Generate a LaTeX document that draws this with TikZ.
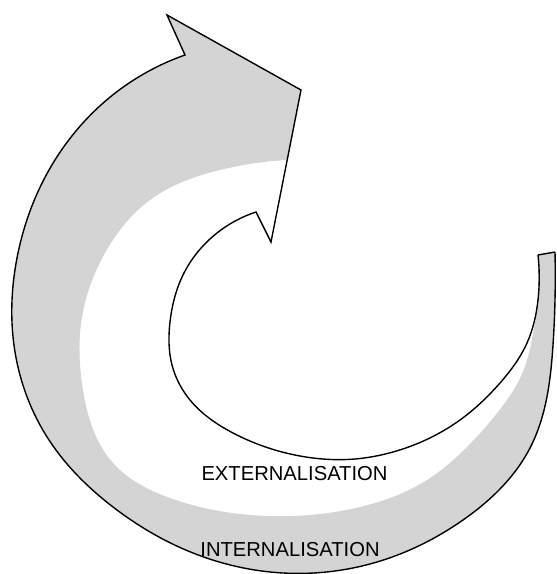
\documentclass[tikz,border=0pt]{standalone}
\usepackage{fontspec}
\setmainfont{Liberation Sans}
\usetikzlibrary{hobby}
\begin{document}
\begin{tikzpicture}[scale=2.54,
  cycband/.style={fill=black!17},
  cyclabel/.style={font=\fontsize{14.6}{17}\selectfont,inner sep=0pt}]%
% spiral arrow, units in inches, origin at lower left
\ifx\cyclw\undefined\newdimen\cyclw\fi
\global\def\cycdraw{\draw[line width=\cyclw]}
\global\def\cycstop{;}
\cyclw=1bp
\useasboundingbox (0,0) rectangle (5.57,5.74)\cycstop
% grey band: outer rim, arrow head, then the soft inner edge back to the tail
\fill[cycband] (5.55,3.22)
 to[curve through={(5.53,2.29) (5.30,1.26) (4.63,0.54) (3.77,0.12)
 (2.83,0.01) (1.93,0.21) (1.13,0.67) (0.49,1.34) (0.15,2.22)
 (0.17,3.16) (0.49,4.04) (1.09,4.76)}] (1.85,5.19)
 --(1.67,5.59)
 --(3.01,4.84)
 --(2.87,4.14)
 to[curve through={(2.20,4.04) (1.50,3.74) (1.05,3.21) (0.82,2.57)
 (0.83,1.84) (1.13,1.11) (1.70,0.76) (2.67,0.58) (3.60,0.67)
 (4.27,0.94) (4.65,1.25) (4.98,1.62) (5.22,2.00) (5.33,2.40)}] (5.38,2.74)
 --(5.38,3.19)
 -- cycle\cycstop
% outline
\cycdraw (5.38,3.19)
 --(5.55,3.22)\cycstop
\cycdraw[line join=miter] (5.55,3.22)
 to[curve through={(5.53,2.29) (5.30,1.26) (4.63,0.54) (3.77,0.12)
 (2.83,0.01) (1.93,0.21) (1.13,0.67) (0.49,1.34) (0.15,2.22)
 (0.17,3.16) (0.49,4.04) (1.09,4.76)}] (1.85,5.19)
 --(1.67,5.59)
 --(3.01,4.84)
 --(2.71,3.32)
 --(2.56,3.62)
 to[curve through={(2.17,3.41) (1.83,2.99) (1.70,2.52) (1.72,2.09)
 (1.90,1.74) (2.33,1.41) (3.00,1.18) (3.55,1.15) (3.93,1.22)
 (4.60,1.54) (5.00,1.91) (5.27,2.31) (5.38,2.74)}] (5.38,3.19)\cycstop
\node[cyclabel] (ext) at (2.945,1.005) {EXTERNALISATION}\cycstop
\node[cyclabel] (int) at (2.90,0.245) {INTERNALISATION}\cycstop
\end{tikzpicture}
\end{document}
